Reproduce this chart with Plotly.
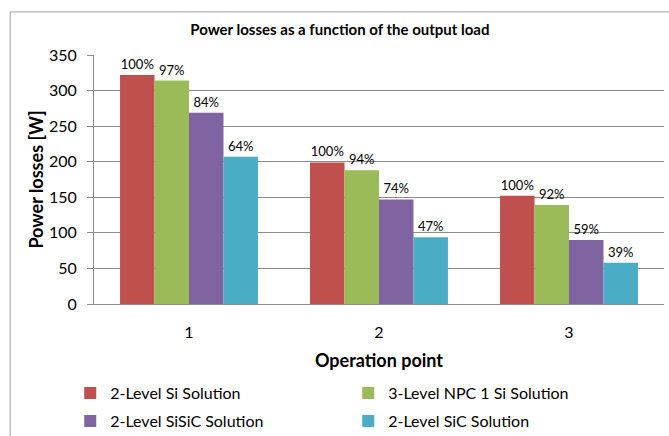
import plotly.graph_objects as go

categories = ["1", "2", "3"]
series_names = ["2-Level Si Solution", "3-Level NPC 1 Si Solution",
                "2-Level SiSiC Solution", "2-Level SiC Solution"]
si_2level = [322, 199, 152]
npc_3level = [314, 188, 139]
sisic_2level = [269, 147, 90]
sic_2level = [207, 94, 58]
pct_si_2level = ["100%", "100%", "100%"]
pct_npc_3level = ["97%", "94%", "92%"]
pct_sisic_2level = ["84%", "74%", "59%"]
pct_sic_2level = ["64%", "47%", "39%"]
y_ticks = [0, 50, 100, 150, 200, 250, 300, 350]

colors = ["#C0504D", "#9BBB59", "#8064A2", "#4BACC6"]
values = [si_2level, npc_3level, sisic_2level, sic_2level]
labels = [pct_si_2level, pct_npc_3level, pct_sisic_2level, pct_sic_2level]
legend_ids = ["legend", "legend", "legend2", "legend2"]

FONT = "Lato"

fig = go.Figure()
for name, vals, lab, col, lg in zip(series_names, values, labels, colors, legend_ids):
    fig.add_trace(go.Bar(
        x=categories, y=vals, name=name, text=lab,
        textposition="outside", cliponaxis=False,
        textfont=dict(family=FONT, size=13, color="#000000"),
        marker=dict(color=col, line=dict(width=0)),
        legend=lg,
    ))

legend_common = dict(orientation="h", xanchor="left", yanchor="middle",
                     xref="container", yref="container",
                     entrywidth=233, entrywidthmode="pixels", itemwidth=30,
                     font=dict(family=FONT, size=16, color="#000000"),
                     bgcolor="rgba(0,0,0,0)")

fig.update_layout(
    width=669, height=436,
    margin=dict(l=94, r=5, t=55, b=132, autoexpand=False),
    paper_bgcolor="white", plot_bgcolor="white",
    font=dict(family=FONT, color="#000000"),
    barmode="group", bargap=0.274, bargroupgap=0,
    title=dict(text="<b>Power losses as a function of the output load</b>",
               font=dict(family=FONT, size=15, color="#000000"),
               x=0.508, xanchor="center", y=0.931, yanchor="middle"),
    legend=dict(x=0.105, y=0.0986, **legend_common),
    legend2=dict(x=0.105, y=0.0344, **legend_common),
    xaxis=dict(type="category", showline=True, linecolor="#8C8C8C", linewidth=1,
               ticks="outside", ticklen=14, tickcolor="rgba(0,0,0,0)",
               tickfont=dict(family=FONT, size=16),
               title=dict(text="<b>Operation point</b>", font=dict(family=FONT, size=18),
                          standoff=14),
               showgrid=False, automargin=False),
    yaxis=dict(range=[0, 350], tickvals=y_ticks, showline=True, linecolor="#8C8C8C",
               linewidth=1, ticks="outside", ticklen=6, tickcolor="#8C8C8C",
               ticklabelstandoff=7,
               tickfont=dict(family=FONT, size=16),
               gridcolor="#8C8C8C", gridwidth=1, zeroline=False, automargin=False,
               title=dict(text="<b>Power losses [W]</b>", font=dict(family=FONT, size=18),
                          standoff=0)),
    shapes=[dict(type="rect", xref="paper", yref="paper",
                 x0=-0.147, x1=1.05, y0=-0.7, y1=1.173,
                 line=dict(color="#A0A0A0", width=1), fillcolor="rgba(0,0,0,0)",
                 layer="below")],
)

fig.write_html("out.html",
               config={"displayModeBar": False},
               post_script="document.body.style.margin='0';document.body.style.overflow='hidden';")
